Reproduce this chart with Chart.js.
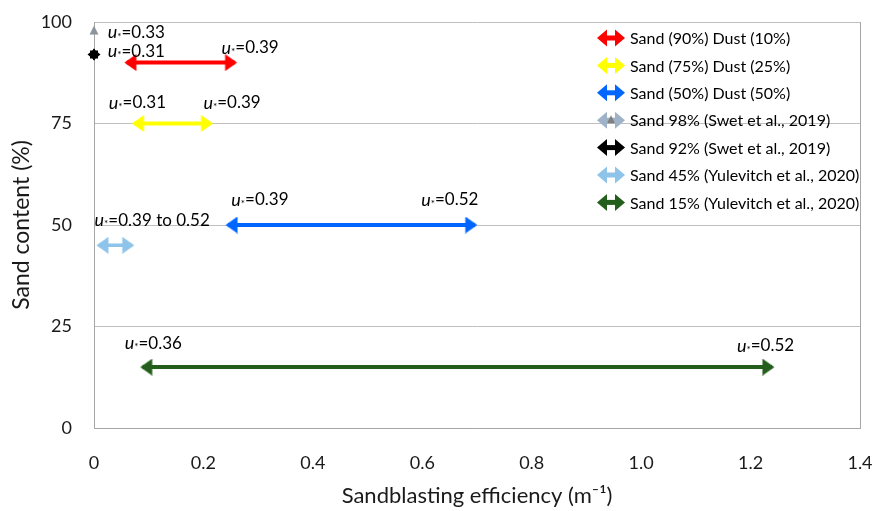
<!DOCTYPE html>
<html>
<head>
<meta charset="utf-8">
<script src="https://cdn.jsdelivr.net/npm/chart.js@4.4.0/dist/chart.umd.min.js"></script>
<style>
  html, body { margin: 0; background: #fff; }
  #wrap { width: 874px; height: 511px; }
</style>
</head>
<body>
<div id="wrap"><canvas id="chart-sand"></canvas></div>
<script>
// series
const seriesLabels = [
    "Sand (90%) Dust (10%)",
    "Sand (75%) Dust (25%)",
    "Sand (50%) Dust (50%)",
    "Sand 98% (Swet et al., 2019)",
    "Sand 92% (Swet et al., 2019)",
    "Sand 45% (Yulevitch et al., 2020)",
    "Sand 15% (Yulevitch et al., 2020)",
];
const sandContent = [90, 75, 50, 98, 92, 45, 15];
const efficiencyLow = [0.06, 0.074, 0.245, 0, 0, 0.009, 0.089];
const efficiencyHigh = [0.257, 0.213, 0.696, 0, 0, 0.069, 1.239];

// u* notes on the plot
const noteValues = ["0.33", "0.31", "0.39", "0.31", "0.39", "0.39 to 0.52", "0.39", "0.52", "0.36", "0.52"];
const noteX = [0.025, 0.025, 0.233, 0.027, 0.2, 0.001, 0.251, 0.598, 0.056, 1.175];
const noteY = [97.4, 92.8, 93.6, 80.1, 80.1, 51.2, 56.2, 56.2, 20.9, 20.2];

const xTickValues = [0, 0.2, 0.4, 0.6, 0.8, 1, 1.2, 1.4];
const yTickValues = [0, 25, 50, 75, 100];

const colors = ["#ff0000", "#ffff00", "#0066ff", "#8e959e", "#000000", "#8ec4ea", "#245e1c"];
const FONT = "Lato";

// arrow head image, tip sits at the image centre
function makeHead(color, dir, len, half) {
    const e = 2.5;
    const c = document.createElement("canvas");
    c.width = len * 2;
    c.height = half * 2;
    const g = c.getContext("2d");
    g.fillStyle = color;
    g.beginPath();
    if (dir > 0) {
        g.moveTo(e, 0); g.lineTo(len + e, half); g.lineTo(e, half * 2);
    } else {
        g.moveTo(len * 2 - e, 0); g.lineTo(len - e, half); g.lineTo(len * 2 - e, half * 2);
    }
    g.fill();
    return c;
}

function makeBlob(color) {
    const c = document.createElement("canvas");
    c.width = 14; c.height = 13;
    const g = c.getContext("2d");
    g.fillStyle = color;
    g.beginPath(); g.moveTo(0.5, 6.5); g.lineTo(8, 0.5); g.lineTo(8, 12.5); g.fill();
    g.beginPath(); g.moveTo(13.5, 6.5); g.lineTo(6, 0.5); g.lineTo(6, 12.5); g.fill();
    g.fillRect(3, 2.5, 8, 8);
    return c;
}

function makeUpTriangle(color) {
    const c = document.createElement("canvas");
    c.width = 10; c.height = 10;
    const g = c.getContext("2d");
    g.fillStyle = color;
    g.beginPath(); g.moveTo(5, 0.5); g.lineTo(9.5, 9.5); g.lineTo(0.5, 9.5); g.fill();
    return c;
}

function drawLegendArrow(ctx, x, y, color) {
    const w = 28, len = 10, half = 8.5, shaft = 5;
    ctx.fillStyle = color;
    ctx.fillRect(x + len - 1, y - shaft / 2, w - 2 * len + 2, shaft);
    ctx.beginPath(); ctx.moveTo(x, y); ctx.lineTo(x + len, y - half); ctx.lineTo(x + len, y + half); ctx.fill();
    ctx.beginPath(); ctx.moveTo(x + w, y); ctx.lineTo(x + w - len, y - half); ctx.lineTo(x + w - len, y + half); ctx.fill();
}

const datasets = seriesLabels.map((label, i) => {
    const point = efficiencyLow[i] === efficiencyHigh[i];
    let style;
    if (!point) style = [makeHead(colors[i], -1, 12, 8.5), makeHead(colors[i], 1, 12, 8.5)];
    else if (i === 3) style = makeUpTriangle(colors[i]);
    else style = makeBlob(colors[i]);
    const data = point
        ? [{ x: efficiencyLow[i], y: sandContent[i] }]
        : [{ x: efficiencyLow[i], y: sandContent[i] }, { x: efficiencyHigh[i], y: sandContent[i] }];
    return {
        label: label,
        data: data,
        showLine: !point,
        borderColor: colors[i],
        backgroundColor: colors[i],
        borderWidth: i === 5 ? 3.5 : 4,
        borderCapStyle: "butt",
        pointStyle: style,
        pointRadius: 8,
        pointHoverRadius: 8,
        clip: false,
    };
});

const notesPlugin = {
    id: "notes",
    afterDatasetsDraw(chart) {
        const ctx = chart.ctx;
        const xs = chart.scales.x, ys = chart.scales.y;
        ctx.save();
        ctx.fillStyle = "#000";
        ctx.textBaseline = "middle";
        ctx.textAlign = "left";
        noteValues.forEach((v, i) => {
            let px = xs.getPixelForValue(noteX[i]);
            const py = ys.getPixelForValue(noteY[i]);
            ctx.font = "italic 18px " + FONT;
            ctx.fillText("u", px, py);
            px += ctx.measureText("u").width;
            ctx.font = "10px " + FONT;
            ctx.fillText("*", px, py + 4);
            px += ctx.measureText("*").width;
            ctx.font = "17px " + FONT;
            ctx.fillText("=" + v, px, py);
        });
        ctx.restore();
    },
};

const legendPlugin = {
    id: "arrowLegend",
    afterDraw(chart) {
        const ctx = chart.ctx;
        const area = chart.chartArea;
        const left = area.right - 263;
        ctx.save();
        ctx.font = "16px " + FONT;
        ctx.textBaseline = "middle";
        ctx.textAlign = "left";
        seriesLabels.forEach((label, i) => {
            const y = area.top + 16 + i * 27.4;
            if (i === 3) {
                drawLegendArrow(ctx, left, y, "#9fb3c8");
                ctx.fillStyle = "#7f7f7f";
                ctx.beginPath(); ctx.moveTo(left + 14, y - 5); ctx.lineTo(left + 18, y + 3); ctx.lineTo(left + 10, y + 3); ctx.fill();
            } else {
                drawLegendArrow(ctx, left, y, colors[i]);
            }
            ctx.fillStyle = "#000";
            ctx.fillText(label, left + 33, y + 1);
        });
        ctx.restore();
    },
};

const config = {
    type: "scatter",
    data: { datasets: datasets },
    options: {
        responsive: true,
        maintainAspectRatio: false,
        animation: false,
        layout: { padding: { top: 22, right: 14 } },
        plugins: {
            legend: { display: false },
            tooltip: { enabled: false },
        },
        scales: {
            x: {
                type: "linear",
                min: 0,
                max: 1.4,
                afterBuildTicks: (scale) => { scale.ticks = xTickValues.map(v => ({ value: v })); },
                afterFit: (scale) => { scale.height = 83; },
                grid: {
                    drawTicks: true,
                    tickLength: 24,
                    tickColor: "rgba(0,0,0,0)",
                    color: (c) => (c.index === xTickValues.length - 1 ? "#a6a6a6" : "rgba(0,0,0,0)"),
                },
                border: { color: "#a6a6a6" },
                ticks: { color: "#1a1a1a", padding: 0, font: { family: FONT, size: 18 } },
                title: {
                    display: true,
                    text: "Sandblasting efficiency (m\u207B\u00B9)",
                    color: "#1a1a1a",
                    font: { family: FONT, size: 22 },
                    padding: { top: 0, bottom: 2 },
                },
            },
            y: {
                type: "linear",
                min: 0,
                max: 100,
                afterBuildTicks: (scale) => { scale.ticks = yTickValues.map(v => ({ value: v })); },
                afterFit: (scale) => { scale.width = 94; },
                grid: { drawTicks: true, tickLength: 22, tickColor: "rgba(0,0,0,0)", color: "#bfbfbf" },
                border: { color: "#a6a6a6" },
                ticks: { color: "#1a1a1a", padding: 0, font: { family: FONT, size: 18 } },
                title: {
                    display: true,
                    text: "Sand content (%)",
                    color: "#1a1a1a",
                    font: { family: FONT, size: 23 },
                    padding: { top: 8, bottom: 0 },
                },
            },
        },
    },
    plugins: [notesPlugin, legendPlugin],
};

const canvas = document.getElementById("chart-sand");
const chart = new Chart(canvas, config);
</script>
</body>
</html>
